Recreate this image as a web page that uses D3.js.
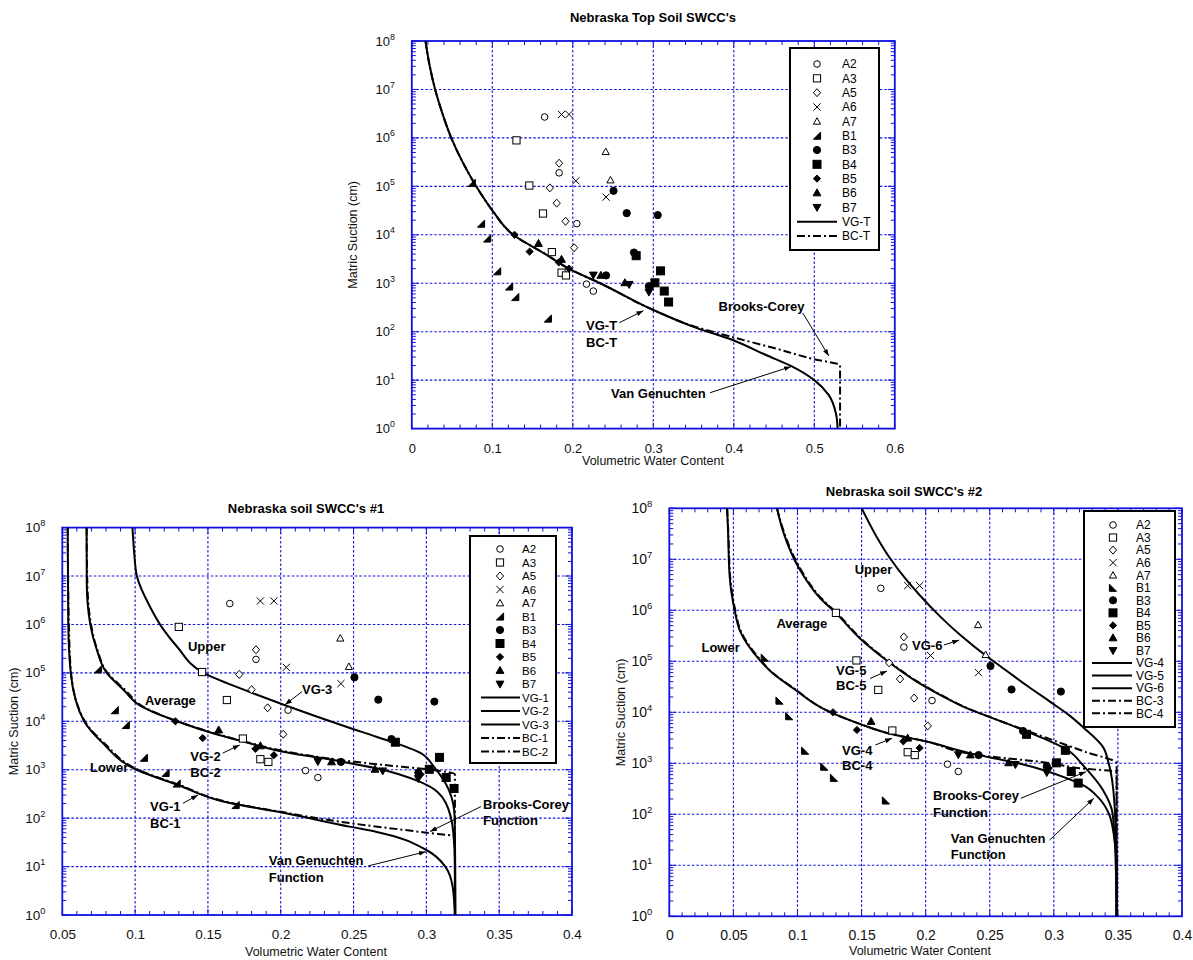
<!DOCTYPE html>
<html>
<head>
<meta charset="utf-8">
<script src="https://cdn.jsdelivr.net/npm/d3@7"></script>
<style>
  body { margin: 0; background: #fff; }
  svg { font-family: "Liberation Sans", Arial, sans-serif; }
</style>
</head>
<body>
<div id="chart"></div>
<script>
// measured soil points [volumetric water content, suction cm]
const seriesNames = ["A2", "A3", "A5", "A6", "A7", "B1", "B3", "B4", "B5", "B6", "B7"];
const A2 = [[0.165, 2.7e6], [0.183, 1.9e5], [0.205, 1.7e4], [0.217, 960], [0.2255, 690]];
const A3 = [[0.130, 8.9e5], [0.146, 1.04e5], [0.163, 2.75e4], [0.174, 4.4e3], [0.186, 1.65e3], [0.1915, 1.45e3]];
const A5 = [[0.183, 3.0e5], [0.1715, 9.3e4], [0.180, 4.5e4], [0.191, 1.9e4], [0.2017, 5.4e3]];
const A6 = [[0.186, 3.05e6], [0.1953, 3.05e6], [0.2038, 1.3e5], [0.2413, 6e4]];
const A7 = [[0.2409, 5.2e5], [0.2468, 1.35e5]];
const B1 = [[0.0745, 1.18e5], [0.086, 1.7e4], [0.0936, 8.4e3], [0.106, 1.77e3], [0.1209, 860], [0.1285, 520], [0.169, 187]];
const B3 = [[0.2506, 8.1e4], [0.267, 2.8e4], [0.3055, 2.55e4], [0.276, 4.3e3], [0.2413, 1.45e3], [0.2945, 870]];
const B4 = [[0.2787, 3.7e3], [0.309, 1.8e3], [0.302, 1.02e3], [0.3136, 690], [0.319, 410]];
const B5 = [[0.1277, 1e4], [0.1464, 4.5e3], [0.1826, 2.7e3], [0.1953, 2e3], [0.296, 800]];
const B6 = [[0.1574, 6.6e3], [0.186, 3.1e3], [0.2349, 1.45e3], [0.2647, 1.02e3]];
const B7 = [[0.2255, 1.48e3], [0.270, 950], [0.2945, 660]];
const points = { A2, A3, A5, A6, A7, B1, B3, B4, B5, B6, B7 };

// fitted curves
const vgT = [[0.017, 1e8], [0.022, 3.2e7], [0.029, 1e7], [0.038, 3.2e6], [0.049, 1e6], [0.063, 3.2e5], [0.080, 1e5], [0.100, 3.2e4], [0.126, 1e4], [0.166, 4e3], [0.195, 2e3], [0.234, 1e3], [0.300, 280], [0.350, 126], [0.400, 66], [0.440, 33], [0.469, 20.4], [0.500, 10], [0.518, 4.9], [0.527, 2.0], [0.529, 1]];
const bcT = [[0.017, 1e8], [0.022, 3.2e7], [0.029, 1e7], [0.038, 3.2e6], [0.049, 1e6], [0.063, 3.2e5], [0.080, 1e5], [0.100, 3.2e4], [0.126, 1e4], [0.166, 4e3], [0.195, 2e3], [0.234, 1e3], [0.300, 280], [0.350, 130], [0.400, 76], [0.450, 46], [0.500, 27], [0.532, 20.4], [0.532, 1]];

const vg1 = [[0.0537, 1e8], [0.0541, 1e6], [0.0558, 1e5], [0.065, 1e4], [0.078, 3.5e3], [0.101, 1e3], [0.129, 490], [0.165, 205], [0.200, 132], [0.248, 66], [0.266, 52], [0.300, 22], [0.313, 10], [0.318, 3.9], [0.3196, 1]];
const bc1 = [[0.0537, 1e8], [0.0545, 1e6], [0.056, 1e5], [0.0655, 1e4], [0.079, 3.5e3], [0.102, 1e3], [0.130, 490], [0.165, 210], [0.200, 135], [0.240, 85], [0.300, 50], [0.3196, 42], [0.3196, 1]];
const vg2 = [[0.0667, 1e8], [0.0668, 7.1e6], [0.0691, 1.05e6], [0.0737, 3e5], [0.0805, 1e5], [0.092, 4.5e4], [0.1046, 2e4], [0.1287, 1e4], [0.154, 5.6e3], [0.1745, 3.8e3], [0.200, 2.4e3], [0.2413, 1.48e3], [0.2656, 1.07e3], [0.2957, 560], [0.3132, 210], [0.3185, 50], [0.3196, 10], [0.3196, 1]];
const bc2 = [[0.0667, 1e8], [0.0672, 7.1e6], [0.0696, 1.05e6], [0.074, 3e5], [0.081, 1e5], [0.093, 4.5e4], [0.1055, 2e4], [0.129, 1e4], [0.155, 5.6e3], [0.1755, 3.8e3], [0.200, 2.5e3], [0.2433, 1.55e3], [0.270, 1.26e3], [0.303, 1e3], [0.3196, 800], [0.3196, 1]];
const vg3 = [[0.0982, 1e8], [0.0993, 3.2e7], [0.1012, 1e7], [0.1103, 2.3e6], [0.1195, 7.8e5], [0.1287, 3.5e5], [0.147, 1e5], [0.1745, 4.5e4], [0.202, 2.2e4], [0.248, 7.2e3], [0.2656, 4.8e3], [0.2962, 2.2e3], [0.3052, 1.15e3], [0.3155, 380], [0.3194, 107], [0.3198, 10], [0.320, 1]];

const vg4 = [[0.0451, 1e8], [0.0458, 3.7e7], [0.0471, 4.6e6], [0.051, 1e6], [0.0549, 4.1e5], [0.0704, 1.07e5], [0.0807, 5.8e4], [0.0963, 3e4], [0.1222, 1.1e4], [0.148, 6e3], [0.174, 3.7e3], [0.1998, 2.7e3], [0.2335, 1.6e3], [0.2723, 1e3], [0.311, 500], [0.322, 380], [0.335, 210], [0.3428, 105], [0.347, 37], [0.349, 10], [0.349, 1]];
const bc4 = [[0.0451, 1e8], [0.046, 3.7e7], [0.0475, 4.6e6], [0.0515, 1e6], [0.0555, 4.1e5], [0.071, 1.07e5], [0.081, 5.8e4], [0.0968, 3e4], [0.1225, 1.1e4], [0.148, 6e3], [0.174, 3.7e3], [0.200, 2.7e3], [0.2387, 1.48e3], [0.2981, 1e3], [0.320, 800], [0.349, 680], [0.349, 1]];
const vg5 = [[0.084, 1e8], [0.0885, 3.7e7], [0.102, 6.2e6], [0.1176, 1.74e6], [0.1306, 8.5e5], [0.1488, 2.8e5], [0.1709, 9.8e4], [0.193, 4e4], [0.2112, 2.2e4], [0.2268, 1.38e4], [0.2723, 4.9e3], [0.311, 1.8e3], [0.3232, 890], [0.3383, 300], [0.3458, 105], [0.348, 17], [0.349, 1]];
const bc5 = [[0.084, 1e8], [0.089, 3.7e7], [0.1028, 6.2e6], [0.1184, 1.74e6], [0.1314, 8.5e5], [0.1495, 2.8e5], [0.1716, 9.8e4], [0.1937, 4e4], [0.2118, 2.2e4], [0.2274, 1.38e4], [0.2723, 5e3], [0.300, 2.8e3], [0.325, 1.66e3], [0.349, 1e3], [0.349, 1]];
const vg6 = [[0.1501, 1e8], [0.1618, 2.75e7], [0.1722, 1.05e7], [0.1852, 3.9e6], [0.1956, 1.95e6], [0.2112, 7.6e5], [0.2268, 3.3e5], [0.2502, 1.12e5], [0.258, 8.1e4], [0.280, 3.2e4], [0.2992, 1.48e4], [0.3126, 8.5e3], [0.3232, 5e3], [0.3383, 2.1e3], [0.3428, 1e3], [0.3473, 166], [0.349, 10], [0.349, 1]];

// legend line entries
const legendTop = [["VG-T", false], ["BC-T", true]];
const legendOne = [["VG-1", false], ["VG-2", false], ["VG-3", false], ["BC-1", true], ["BC-2", true]];
const legendTwo = [["VG-4", false], ["VG-5", false], ["VG-6", false], ["BC-3", true], ["BC-4", true]];

// annotation labels [text, theta, suction] and arrows [theta1, h1, theta2, h2]
const notesTop = [["Brooks-Corey", 0.381, 267], ["VG-T", 0.2165, 108], ["BC-T", 0.2165, 48], ["Van Genuchten", 0.2475, 4.3]];
const arrowsTop = [[0.4857, 243, 0.518, 31.5], [0.2578, 153, 0.2877, 272], [0.3704, 5.5, 0.471, 19]];
const notesOne = [["Upper", 0.1363, 2.8e5], ["Average", 0.1068, 2.2e4], ["Lower", 0.069, 877], ["VG-3", 0.2146, 3.75e4],
  ["VG-2", 0.1379, 1.55e3], ["BC-2", 0.1379, 708], ["VG-1", 0.1103, 141], ["BC-1", 0.1103, 64],
  ["Brooks-Corey", 0.3389, 151], ["Function", 0.3389, 72], ["Van Genuchten", 0.1918, 11], ["Function", 0.1918, 4.85]];
const arrowsOne = [[0.2146, 4.1e4, 0.2029, 2.2e4], [0.1601, 2.2e3, 0.1718, 3.24e3], [0.1329, 203, 0.1432, 300],
  [0.3375, 173, 0.3025, 53], [0.26, 10.3, 0.2996, 20.3]];
const notesTwo = [["Upper", 0.1446, 5.15e6], ["Average", 0.0836, 4.5e5], ["Lower", 0.0251, 1.52e5], ["VG-6", 0.1894, 1.63e5],
  ["VG-5", 0.1301, 5.27e4], ["BC-5", 0.1301, 2.7e4], ["VG-4", 0.1348, 1.44e3], ["BC-4", 0.1348, 733],
  ["Brooks-Corey", 0.2057, 187], ["Function", 0.2057, 88], ["Van Genuchten", 0.2196, 27.6], ["Function", 0.2196, 13.4]];
const arrowsTwo = [[0.2142, 2.09e5, 0.2262, 2.6e5], [0.1566, 4.6e4, 0.1699, 6.45e4], [0.1608, 2.29e3, 0.1738, 3.09e3],
  [0.2742, 206, 0.3251, 684], [0.2967, 31.3, 0.3312, 206]];

const W = 1193, H = 960;
const blue = "#1010e0";
const dashBC = "8,3,2,3";

const svg = d3.select("#chart").append("svg")
  .attr("width", W).attr("height", H)
  .attr("viewBox", `0 0 ${W} ${H}`);

svg.append("defs").append("marker")
  .attr("id", "arr").attr("viewBox", "0 0 10 10")
  .attr("refX", 10).attr("refY", 5)
  .attr("markerWidth", 7).attr("markerHeight", 7)
  .attr("orient", "auto")
  .append("path").attr("d", "M0,1.5L10,5L0,8.5Z").attr("fill", "#000");

function marker(g, name, cx, cy, flipB1) {
  const s = 3.6;
  let el;
  switch (name) {
    case "A2": el = g.append("circle").attr("cx", cx).attr("cy", cy).attr("r", 3.3).attr("fill", "#fff"); break;
    case "A3": el = g.append("rect").attr("x", cx - s).attr("y", cy - s).attr("width", 2 * s).attr("height", 2 * s).attr("fill", "#fff"); break;
    case "A5": el = g.append("path").attr("d", `M${cx},${cy - s - 0.4}L${cx + s},${cy}L${cx},${cy + s + 0.4}L${cx - s},${cy}Z`).attr("fill", "#fff"); break;
    case "A6": el = g.append("path").attr("d", `M${cx - s},${cy - s}L${cx + s},${cy + s}M${cx - s},${cy + s}L${cx + s},${cy - s}`).attr("fill", "none"); break;
    case "A7": el = g.append("path").attr("d", `M${cx},${cy - s}L${cx + s},${cy + s * 0.8}L${cx - s},${cy + s * 0.8}Z`).attr("fill", "#fff"); break;
    case "B1":
      el = g.append("path").attr("d", flipB1
        ? `M${cx - s},${cy - s}L${cx - s},${cy + s}L${cx + s},${cy + s}Z`
        : `M${cx + s},${cy - s}L${cx + s},${cy + s}L${cx - s},${cy + s}Z`).attr("fill", "#000"); break;
    case "B3": el = g.append("circle").attr("cx", cx).attr("cy", cy).attr("r", 3.6).attr("fill", "#000"); break;
    case "B4": el = g.append("rect").attr("x", cx - 4).attr("y", cy - 4).attr("width", 8).attr("height", 8).attr("fill", "#000"); break;
    case "B5": el = g.append("path").attr("d", `M${cx},${cy - s}L${cx + s},${cy}L${cx},${cy + s}L${cx - s},${cy}Z`).attr("fill", "#000"); break;
    case "B6": el = g.append("path").attr("d", `M${cx},${cy - s - 0.5}L${cx + s + 0.3},${cy + s * 0.8}L${cx - s - 0.3},${cy + s * 0.8}Z`).attr("fill", "#000"); break;
    case "B7": el = g.append("path").attr("d", `M${cx},${cy + s + 0.5}L${cx + s + 0.3},${cy - s * 0.8}L${cx - s - 0.3},${cy - s * 0.8}Z`).attr("fill", "#000"); break;
  }
  el.attr("stroke", "#000").attr("stroke-width", 1);
}

function panel(cfg) {
  const { left, right, top, bottom } = cfg;
  const g = svg.append("g");
  const x = d3.scaleLinear().domain(cfg.xDomain).range([left, right]);
  const y = d3.scaleLog().domain([1, 1e8]).range([bottom, top]);

  const xMajor = x.ticks(cfg.xCount);
  const n0 = Math.round(cfg.xDomain[0] / cfg.xMinor), n1 = Math.round(cfg.xDomain[1] / cfg.xMinor);
  const xMinor = d3.range(n0, n1 + 1).map(i => i * cfg.xMinor);
  const decades = d3.range(0, 9).map(p => Math.pow(10, p));
  const yMinor = [];
  decades.slice(0, 8).forEach(d => { for (let k = 2; k <= 9; k++) yMinor.push(d * k); });

  // grid
  const grid = g.append("g").attr("stroke", blue).attr("stroke-width", 1.1).attr("stroke-dasharray", "2.5,2");
  grid.selectAll(".gx").data(xMajor.slice(1, -1)).enter().append("line")
    .attr("x1", d => x(d)).attr("x2", d => x(d)).attr("y1", top).attr("y2", bottom);
  grid.selectAll(".gy").data(decades.slice(1, -1)).enter().append("line")
    .attr("x1", left).attr("x2", right).attr("y1", d => y(d)).attr("y2", d => y(d));

  // ticks on all four sides
  const tk = g.append("g").attr("stroke", blue).attr("stroke-width", 1);
  xMinor.forEach(v => {
    const len = xMajor.some(m => Math.abs(m - v) < 1e-9) ? 6 : 4;
    tk.append("line").attr("x1", x(v)).attr("x2", x(v)).attr("y1", bottom).attr("y2", bottom - len);
    tk.append("line").attr("x1", x(v)).attr("x2", x(v)).attr("y1", top).attr("y2", top + len);
  });
  yMinor.concat(decades).forEach(v => {
    const len = decades.includes(v) ? 7 : 4;
    tk.append("line").attr("x1", left).attr("x2", left + len).attr("y1", y(v)).attr("y2", y(v));
    tk.append("line").attr("x1", right).attr("x2", right - len).attr("y1", y(v)).attr("y2", y(v));
  });

  // x tick labels via d3 axis
  const xAxis = d3.axisBottom(x).tickValues(xMajor).tickSize(0).tickPadding(0)
    .tickFormat(d => String(+d.toFixed(2)));
  const xa = g.append("g").attr("transform", `translate(0,${bottom + 24})`).call(xAxis);
  xa.select(".domain").remove();
  xa.selectAll("text").attr("dy", 0).attr("font-size", cfg.tickFont).attr("fill", "#111")
    .attr("font-family", "Liberation Sans, Arial, sans-serif");

  // y tick labels 10^n
  decades.forEach((d, i) => {
    const t = g.append("text").attr("x", left - 17).attr("y", y(d) + 4.5)
      .attr("text-anchor", "end").attr("font-size", cfg.tickFont).attr("fill", "#111");
    t.append("tspan").text("10");
    t.append("tspan").attr("font-size", cfg.tickFont * 0.68).attr("dy", -6).text(String(i));
  });

  // frame
  g.append("rect").attr("x", left).attr("y", top).attr("width", right - left).attr("height", bottom - top)
    .attr("fill", "none").attr("stroke", blue).attr("stroke-width", 1.8);

  // titles
  g.append("text").attr("x", cfg.titleX).attr("y", cfg.titleY).attr("text-anchor", "middle")
    .attr("font-size", 13).attr("font-weight", "bold").text(cfg.title);
  g.append("text").attr("x", cfg.xTitleX).attr("y", cfg.xTitleY).attr("text-anchor", "middle")
    .attr("font-size", 12.5).attr("fill", "#111").text("Volumetric Water Content");
  g.append("text").attr("transform", `translate(${cfg.yTitleX},${(top + bottom) / 2}) rotate(-90)`)
    .attr("text-anchor", "middle").attr("dy", "0.35em")
    .attr("font-size", 12.5).attr("fill", "#111").text("Matric Suction (cm)");

  // curves
  const clipId = "clip" + cfg.id;
  svg.select("defs").append("clipPath").attr("id", clipId)
    .append("rect").attr("x", left).attr("y", top).attr("width", right - left).attr("height", bottom - top);
  const line = d3.line().x(d => x(d[0])).y(d => y(d[1])).curve(d3.curveMonotoneY);
  const cg = g.append("g").attr("clip-path", `url(#${clipId})`);
  cfg.curves.forEach(c => {
    cg.append("path").attr("d", line(c.data)).attr("fill", "none")
      .attr("stroke", "#000").attr("stroke-width", 2)
      .attr("stroke-dasharray", c.dash ? dashBC : null);
  });

  // points
  const pg = g.append("g");
  seriesNames.forEach(name => {
    points[name].forEach(p => marker(pg, name, x(p[0]), y(p[1]), cfg.flipB1));
  });

  // annotations
  const ng = g.append("g").attr("font-size", 13).attr("font-weight", "bold");
  cfg.notes.forEach(n => ng.append("text").attr("x", x(n[1])).attr("y", y(n[2])).text(n[0]));
  cfg.arrows.forEach(a => {
    g.append("line").attr("x1", x(a[0])).attr("y1", y(a[1])).attr("x2", x(a[2])).attr("y2", y(a[3]))
      .attr("stroke", "#000").attr("stroke-width", 1).attr("marker-end", "url(#arr)");
  });

  // legend
  const L = cfg.legend;
  const lg = g.append("g");
  lg.append("rect").attr("x", L.x0).attr("y", L.y0).attr("width", L.x1 - L.x0).attr("height", L.y1 - L.y0)
    .attr("fill", "#fff").attr("stroke", "#000").attr("stroke-width", 2);
  seriesNames.forEach((name, i) => {
    const yy = L.row0 + i * L.step;
    marker(lg, name, L.sym, yy, cfg.flipB1);
    lg.append("text").attr("x", L.lab).attr("y", yy + L.font * 0.36).attr("font-size", L.font).text(name);
  });
  L.lines.forEach((e, j) => {
    const yy = L.row0 + (seriesNames.length + j) * L.step;
    lg.append("line").attr("x1", L.l0).attr("x2", L.l1).attr("y1", yy).attr("y2", yy)
      .attr("stroke", "#000").attr("stroke-width", 2).attr("stroke-dasharray", e[1] ? dashBC : null);
    lg.append("text").attr("x", L.lab).attr("y", yy + L.font * 0.36).attr("font-size", L.font).text(e[0]);
  });
}

panel({
  id: "T", left: 411.8, right: 894.8, top: 41, bottom: 428.6,
  xDomain: [0, 0.6], xCount: 6, xMinor: 0.02, tickFont: 13,
  title: "Nebraska Top Soil SWCC's", titleX: 653, titleY: 22,
  xTitleX: 653, xTitleY: 465, yTitleX: 353,
  curves: [{ data: vgT, dash: false }, { data: bcT, dash: true }],
  notes: notesTop, arrows: arrowsTop, flipB1: false,
  legend: { x0: 790, y0: 48, x1: 879, y1: 250, sym: 817, lab: 842, row0: 64, step: 14.33, font: 12, l0: 797, l1: 837, lines: legendTop }
});

panel({
  id: "L", left: 62.3, right: 572, top: 527.6, bottom: 915,
  xDomain: [0.05, 0.4], xCount: 7, xMinor: 0.01, tickFont: 13.5,
  title: "Nebraska soil SWCC's #1", titleX: 306, titleY: 513,
  xTitleX: 316, xTitleY: 956, yTitleX: 14,
  curves: [{ data: vg1, dash: false }, { data: vg2, dash: false }, { data: vg3, dash: false }, { data: bc1, dash: true }, { data: bc2, dash: true }],
  notes: notesOne, arrows: arrowsOne, flipB1: false,
  legend: { x0: 470, y0: 536, x1: 556, y1: 763, sym: 500, lab: 522, row0: 549, step: 13.5, font: 11.5, l0: 481, l1: 520, lines: legendOne }
});

panel({
  id: "R", left: 669.3, right: 1182, top: 508.3, bottom: 916.3,
  xDomain: [0, 0.4], xCount: 8, xMinor: 0.01, tickFont: 14,
  title: "Nebraska soil SWCC's #2", titleX: 904, titleY: 496,
  xTitleX: 920, xTitleY: 955, yTitleX: 621,
  curves: [{ data: vg4, dash: false }, { data: vg5, dash: false }, { data: vg6, dash: false }, { data: bc4, dash: true }, { data: bc5, dash: true }],
  notes: notesTwo, arrows: arrowsTwo, flipB1: true,
  legend: { x0: 1084, y0: 511, x1: 1175, y1: 727, sym: 1113, lab: 1136, row0: 525, step: 12.55, font: 12, l0: 1092, l1: 1132, lines: legendTwo }
});
</script>
</body>
</html>
